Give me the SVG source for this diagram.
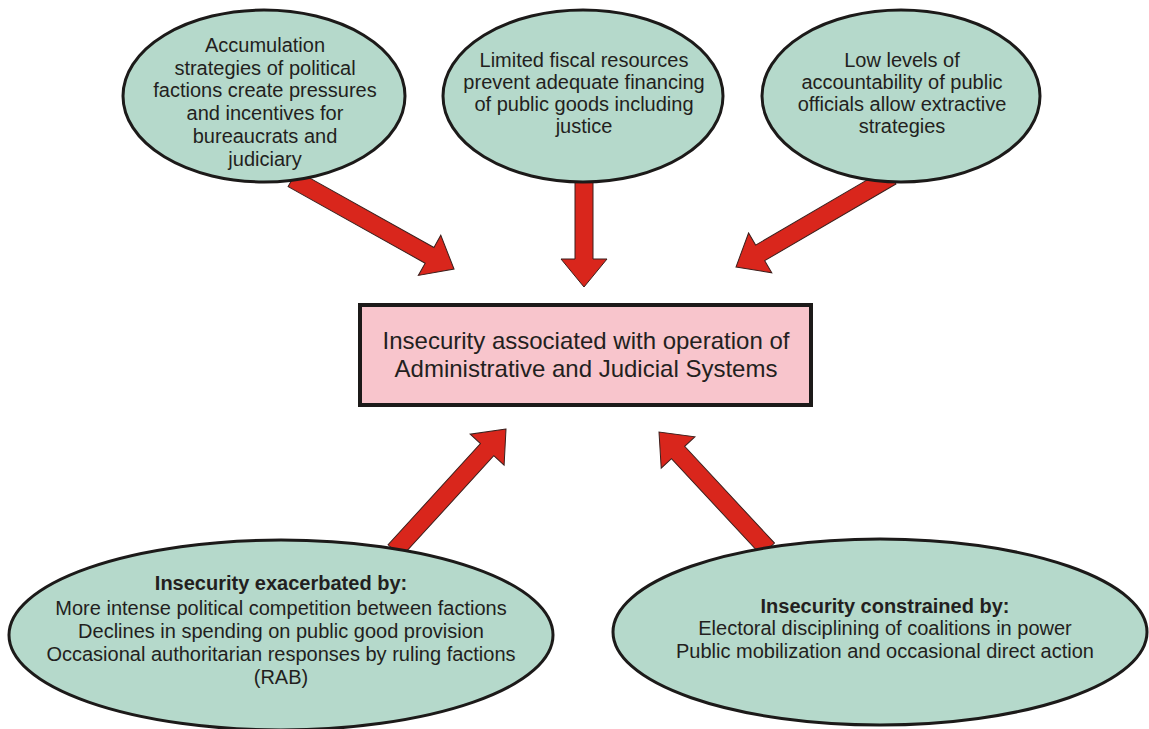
<svg xmlns="http://www.w3.org/2000/svg" width="1149" height="729" viewBox="0 0 1149 729">
<style>
.ell{fill:#b5d9cb;stroke:#1c1a19;stroke-width:3}
.box{fill:#f8c5cc;stroke:#1c1a19;stroke-width:4}
.arr{fill:#d9261c;stroke:#3b1f1c;stroke-width:1;stroke-linejoin:miter}
text{font-family:"Liberation Sans",Arial,sans-serif;fill:#231f20;text-anchor:middle}
.t{font-size:20px}
.c{font-size:24px}
.b{font-weight:bold}
</style>
<rect width="1149" height="729" fill="#ffffff"/>
<g id="connectors">
<path class="arr" transform="translate(454,269) rotate(29.2)" d="M0,0 L-28,-23 L-28,-9 L-185,-9 L-185,9 L-28,9 L-28,23 Z"/>
<path class="arr" transform="translate(584,287) rotate(90)" d="M0,0 L-28,-23 L-28,-9 L-115,-9 L-115,9 L-28,9 L-28,23 Z"/>
<path class="arr" transform="translate(736,267) rotate(149.7)" d="M0,0 L-28,-23 L-28,-9 L-180,-9 L-180,9 L-28,9 L-28,23 Z"/>
<path class="arr" transform="translate(506,429) rotate(-47.6)" d="M0,0 L-28,-23 L-28,-9 L-165,-9 L-165,9 L-28,9 L-28,23 Z"/>
<path class="arr" transform="translate(659,432) rotate(-132.9)" d="M0,0 L-28,-23 L-28,-9 L-160,-9 L-160,9 L-28,9 L-28,23 Z"/>
</g>
<g id="node-accumulation">
<ellipse class="ell" cx="264" cy="96" rx="141" ry="86"/>
<text class="t"><tspan x="265" y="52">Accumulation</tspan><tspan x="265" y="75">strategies of political</tspan><tspan x="265" y="97">factions create pressures</tspan><tspan x="265" y="120">and incentives for</tspan><tspan x="265" y="143">bureaucrats and</tspan><tspan x="265" y="166">judiciary</tspan></text>
</g>
<g id="node-fiscal">
<ellipse class="ell" cx="583" cy="96" rx="140" ry="86"/>
<text class="t"><tspan x="584" y="67">Limited fiscal resources</tspan><tspan x="584" y="89">prevent adequate financing</tspan><tspan x="584" y="111">of public goods including</tspan><tspan x="584" y="133">justice</tspan></text>
</g>
<g id="node-accountability">
<ellipse class="ell" cx="901" cy="96" rx="139" ry="86"/>
<text class="t"><tspan x="902" y="67">Low levels of</tspan><tspan x="902" y="89">accountability of public</tspan><tspan x="902" y="111">officials allow extractive</tspan><tspan x="902" y="133">strategies</tspan></text>
</g>
<g id="node-insecurity">
<rect class="box" x="360" y="305" width="451" height="100"/>
<text class="c"><tspan x="586" y="349">Insecurity associated with operation of</tspan><tspan x="586" y="377">Administrative and Judicial Systems</tspan></text>
</g>
<g id="node-exacerbated">
<ellipse class="ell" cx="281" cy="635" rx="272" ry="95"/>
<text class="t"><tspan class="b" x="281" y="590">Insecurity exacerbated by:</tspan><tspan x="281" y="615">More intense political competition between factions</tspan><tspan x="281" y="638">Declines in spending on public good provision</tspan><tspan x="281" y="661">Occasional authoritarian responses by ruling factions</tspan><tspan x="281" y="684">(RAB)</tspan></text>
</g>
<g id="node-constrained">
<ellipse class="ell" cx="880" cy="632" rx="267" ry="93"/>
<text class="t"><tspan class="b" x="885" y="613">Insecurity constrained by:</tspan><tspan x="885" y="635">Electoral disciplining of coalitions in power</tspan><tspan x="885" y="658">Public mobilization and occasional direct action</tspan></text>
</g>
</svg>
